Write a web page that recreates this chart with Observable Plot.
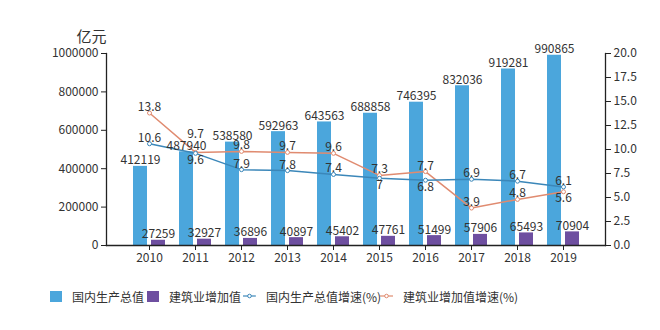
<!DOCTYPE html>
<html><head><meta charset="utf-8">
<script src="https://cdn.jsdelivr.net/npm/d3@7"></script>
<script src="https://cdn.jsdelivr.net/npm/@observablehq/plot@0.6"></script>
<style>
body{margin:0;background:#fff;font-family:"Noto Sans CJK SC","Noto Sans",sans-serif;}
#chart{position:relative;width:660px;height:330px;overflow:hidden;}
#chart svg{display:block;}
.legend{position:absolute;top:288px;left:0;width:660px;height:16px;font-size:12px;color:#333;}
.item{position:absolute;top:0;display:flex;align-items:center;height:16px;white-space:nowrap;}
.sq{width:12px;height:11px;margin-right:10px;}
.ln{margin-right:10px;display:block;}
</style></head><body><div id="chart"></div>
<script>
const years = ["2010","2011","2012","2013","2014","2015","2016","2017","2018","2019"];
const gdp = [412119, 487940, 538580, 592963, 643563, 688858, 746395, 832036, 919281, 990865];
const construction = [27259, 32927, 36896, 40897, 45402, 47761, 51499, 57906, 65493, 70904];
const gdpGrowth = [10.6, 9.6, 7.9, 7.8, 7.4, 7, 6.8, 6.9, 6.7, 6.1];
const constructionGrowth = [13.8, 9.7, 9.8, 9.7, 9.6, 7.3, 7.7, 3.9, 4.8, 5.6];
const leftTicks = [0, 200000, 400000, 600000, 800000, 1000000];
const rightTicks = [0, 2.5, 5, 7.5, 10, 12.5, 15, 17.5, 20];
const seriesNames = ["国内生产总值", "建筑业增加值", "国内生产总值增速(%)", "建筑业增加值增速(%)"];
const unitLabel = "亿元";

const colors = ["#4ba6dc", "#6e4fa0", "#3b87b9", "#e08b70"];
const k = 1000000 / 20; // right axis (%) mapped onto left axis scale
const gdpBelow = new Set(["2011", "2015", "2016"]);
const consBelow = new Set(["2019"]);
const consHigh = new Set(["2011"]);

const rows = years.map((year, i) => ({
  year, gdp: gdp[i], cons: construction[i],
  gdpR: gdpGrowth[i] * k, consR: constructionGrowth[i] * k,
  gdpRv: gdpGrowth[i], consRv: constructionGrowth[i]
}));

const font = '"Noto Sans CJK SC","Noto Sans",sans-serif';
const ink = "#333";
const plot = Plot.plot({
  width: 660, height: 280,
  marginLeft: 106, marginRight: 55, marginTop: 53, marginBottom: 35,
  style: {fontFamily: font, fontSize: "12px", color: "#222", background: "transparent", overflow: "visible"},
  x: {type: "band", domain: years, paddingInner: 0.7, paddingOuter: 0.707, axis: null},
  y: {domain: [0, 1000000], axis: null},
  marks: [
    Plot.barY(rows, {x: "year", y: "gdp", fill: colors[0], dx: -9}),
    Plot.barY(rows, {x: "year", y: "cons", fill: colors[1], dx: 9}),
    Plot.frame({anchor: "bottom", stroke: "#222", strokeWidth: 1.3}),
    Plot.frame({anchor: "left", stroke: "#222", strokeWidth: 1.3}),
    Plot.frame({anchor: "right", stroke: "#222", strokeWidth: 1.3}),
    Plot.axisX({anchor: "bottom", tickSize: 5, tickPadding: 3, label: null, fill: ink}),
    Plot.axisY(leftTicks, {anchor: "left", tickSize: 5, tickPadding: 3, label: null, tickFormat: d => String(d), fill: ink}),
    Plot.axisY(rightTicks.map(v => v * k), {anchor: "right", tickSize: 5, tickPadding: 3, label: null, tickFormat: d => (d / k).toFixed(1), fill: ink}),
    Plot.text([unitLabel], {frameAnchor: "top-left", text: d => d, textAnchor: "end", lineAnchor: "middle", dy: -16, fontSize: 15, fill: ink}),
    Plot.line(rows, {x: "year", y: "consR", stroke: colors[3], strokeWidth: 1.5}),
    Plot.line(rows, {x: "year", y: "gdpR", stroke: colors[2], strokeWidth: 1.5}),
    Plot.dot(rows, {x: "year", y: "consR", r: 2, fill: "white", stroke: colors[3], strokeWidth: 1}),
    Plot.dot(rows, {x: "year", y: "gdpR", r: 2, fill: "white", stroke: colors[2], strokeWidth: 1}),
    Plot.text(rows, {x: "year", y: "gdp", text: d => String(d.gdp), dx: -9, dy: -2, lineAnchor: "bottom", fill: ink}),
    Plot.text(rows, {x: "year", y: "cons", text: d => String(d.cons), dx: 9, dy: -2, lineAnchor: "bottom", fill: ink}),
    Plot.text(rows.filter(d => !gdpBelow.has(d.year)), {x: "year", y: "gdpR", text: d => String(d.gdpRv), dy: -2, lineAnchor: "bottom", fill: ink}),
    Plot.text(rows.filter(d => gdpBelow.has(d.year)), {x: "year", y: "gdpR", text: d => String(d.gdpRv), dy: 2, lineAnchor: "top", fill: ink}),
    Plot.text(rows.filter(d => !consBelow.has(d.year) && !consHigh.has(d.year)), {x: "year", y: "consR", text: d => String(d.consRv), dy: -2, lineAnchor: "bottom", fill: ink}),
    Plot.text(rows.filter(d => consHigh.has(d.year)), {x: "year", y: "consR", text: d => String(d.consRv), dy: -14, lineAnchor: "bottom", fill: ink}),
    Plot.text(rows.filter(d => consBelow.has(d.year)), {x: "year", y: "consR", text: d => String(d.consRv), dy: 2, lineAnchor: "top", fill: ink})
  ]
});
const chart = document.getElementById("chart");
chart.appendChild(plot);

// legend
const legend = document.createElement("div");
legend.className = "legend";
const lefts = [50, 147, 243, 380];
seriesNames.forEach((name, i) => {
  const item = document.createElement("div");
  item.className = "item";
  item.style.left = lefts[i] + "px";
  if (i < 2) {
    const sq = document.createElement("span");
    sq.className = "sq";
    sq.style.background = colors[i];
    item.appendChild(sq);
  } else {
    const ns = "http://www.w3.org/2000/svg";
    const s = document.createElementNS(ns, "svg");
    s.setAttribute("width", "13"); s.setAttribute("height", "8");
    s.setAttribute("class", "ln");
    s.innerHTML = `<line x1="0" x2="13" y1="4" y2="4" stroke="${colors[i]}" stroke-width="1.2"/><circle cx="6.5" cy="4" r="1.8" fill="white" stroke="${colors[i]}" stroke-width="1"/>`;
    item.appendChild(s);
  }
  const t = document.createElement("span");
  t.textContent = name;
  item.appendChild(t);
  legend.appendChild(item);
});
chart.appendChild(legend);
</script>
</body></html>
